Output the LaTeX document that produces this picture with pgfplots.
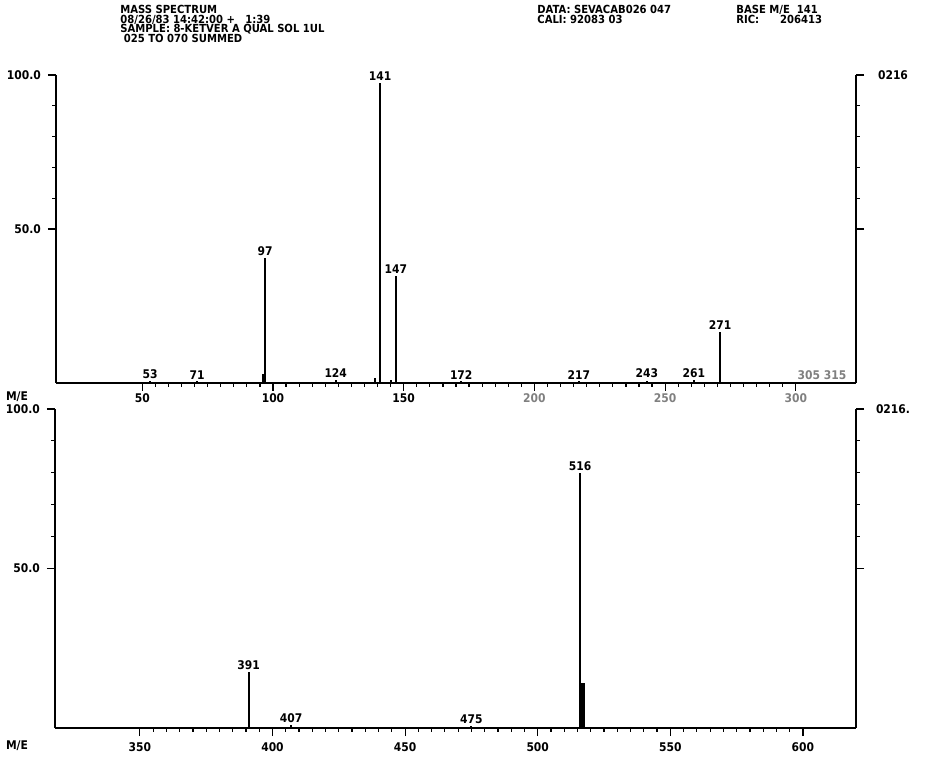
\documentclass[border=0pt]{standalone}
\usepackage{pgfplots}
\pgfplotsset{compat=1.18}
\usepackage{fontspec}
\setmainfont{DejaVu Sans Condensed}
\newcommand\hdr{\fontsize{6}{4.8}\selectfont\bfseries}
\newcommand\hdrb{\fontsize{5.6}{4.75bp}\selectfont\bfseries\lineskiplimit=-20pt\lineskip=0pt}
\pgfplotsset{ms/.style={
  scale only axis, clip=false,
  axis x line=bottom, axis y line=box,
  axis line style={-, line width=0.7bp},
  ymin=0, ymax=100, ytick={50,100}, yticklabels={50.0,100.0},
  minor y tick num=4, minor x tick num=9,
  tick align=outside, major tick length=4bp, minor tick length=1.8bp,
  every tick/.style={line width=0.6bp, black},
  tick label style={font=\hdr},
  /pgf/number format/assume math mode=true,
  /pgf/number format/1000 sep={},
}}
\tikzset{lbl/.style={anchor=south, inner sep=1bp, font=\hdr}}
\begin{document}
\begin{tikzpicture}
\useasboundingbox (0bp,0bp) rectangle (463bp,378.5bp);
% header
\node[anchor=north west, align=left, font=\hdrb, inner sep=0] at (60bp,376bp) {MASS SPECTRUM\\08/26/83 14:42:00 + \ \ 1:39\\SAMPLE: 8-KETVER A QUAL SOL 1UL\\\ 025 TO 070 SUMMED};
\node[anchor=north west, align=left, font=\hdrb, inner sep=0] at (268.5bp,376bp) {DATA: SEVACAB026 047\\CALI: 92083 03};
\node[anchor=north west, align=left, font=\hdrb, inner sep=0] at (368bp,376bp) {BASE M/E \ 141\\RIC: \ \ \ \ \ 206413};
% top panel
\begin{axis}[ms, at={(28bp,187bp)}, anchor=south west, width=400bp, height=154bp,
  xmin=17, xmax=323, xtick={50,100,150,200,250,300},
  xticklabels={50,100,150,{\color{gray}200},{\color{gray}250},{\color{gray}300}},
  xticklabel style={yshift=2bp}]
\addplot[ycomb, line width=1bp, black] coordinates {
(53,0.5) (71,0.5) (96,3) (97,40.6) (124,1) (139,1.5) (141,97.5) (145,1) (147,34.7)
(172,0.5) (217,0.5) (243,0.8) (261,1) (271,16.6) (305,0.3) (315,0.3)};
\node[lbl] at (axis cs:53,0.5) {53};
\node[lbl] at (axis cs:71,0.5) {71};
\node[lbl] at (axis cs:97,40.6) {97};
\node[lbl] at (axis cs:124,1) {124};
\node[lbl] at (axis cs:141,97.5) {141};
\node[lbl] at (axis cs:147,34.7) {147};
\node[lbl] at (axis cs:172,0.5) {172};
\node[lbl] at (axis cs:217,0.5) {217};
\node[lbl] at (axis cs:243,0.8) {243};
\node[lbl] at (axis cs:261,1) {261};
\node[lbl] at (axis cs:271,16.6) {271};
\node[lbl, text=gray] at (axis cs:305,0.3) {305};
\node[lbl, text=gray] at (axis cs:315,0.3) {315};
\end{axis}
% bottom panel
\begin{axis}[ms, at={(27.5bp,14.5bp)}, anchor=south west, width=400.5bp, height=159.5bp,
  xmin=318, xmax=620, xtick={350,400,450,500,550,600}]
\addplot[ycomb, line width=1bp, black] coordinates {
(391,17.5) (407,1) (475,0.5) (516,80) };
\addplot[ycomb, line width=2.5bp, black] coordinates {(517,14)};
\node[lbl] at (axis cs:391,17.5) {391};
\node[lbl] at (axis cs:407,1) {407};
\node[lbl] at (axis cs:475,0.5) {475};
\node[lbl] at (axis cs:516,80) {516};
\end{axis}
\node[font=\hdr] at (8.5bp,180bp) {M/E};
\node[font=\hdr] at (8.5bp,5.5bp) {M/E};
\node[font=\hdr] at (446.5bp,341bp) {0216};
\node[font=\hdr] at (446.5bp,174bp) {0216.};
\end{tikzpicture}
\end{document}
